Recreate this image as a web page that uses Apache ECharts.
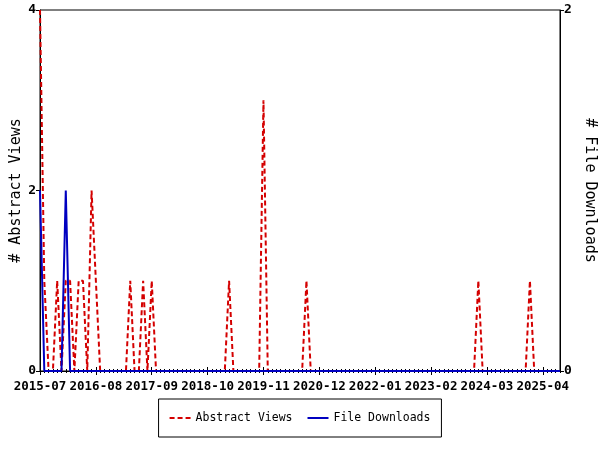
<!DOCTYPE html>
<html><head><meta charset="utf-8">
<script src="https://cdn.jsdelivr.net/npm/echarts@6/dist/echarts.min.js"></script>
<style>html,body{margin:0;padding:0;background:#fff}#c{width:600px;height:450px}</style>
</head><body><div id="c"></div>
<script>
// Categories: monthly from 2015-07, 122 months (to 2025-08)
const startYear = 2015, startMonth = 7, monthCount = 122;
const months = [];
for (let i = 0; i < monthCount; i++) {
  const m = startMonth - 1 + i;
  const y = startYear + Math.floor(m / 12);
  const mm = (m % 12) + 1;
  months.push(y + '-' + (mm < 10 ? '0' + mm : '' + mm));
}
const seriesNames = ['Abstract Views', 'File Downloads'];
const abstractViews = [
  4,1,0,0,1,0,1,1,0,1,
  1,0,2,1,0,0,0,0,0,0,
  0,1,0,0,1,0,1,0,0,0,
  0,0,0,0,0,0,0,0,0,0,
  0,0,0,0,1,0,0,0,0,0,
  0,0,3,0,0,0,0,0,0,0,
  0,0,1,0,0,0,0,0,0,0,
  0,0,0,0,0,0,0,0,0,0,
  0,0,0,0,0,0,0,0,0,0,
  0,0,0,0,0,0,0,0,0,0,
  0,0,1,0,0,0,0,0,0,0,
  0,0,0,0,1,0,0,0,0,0,
  0,0
];
const fileDownloads = [
  1,0,0,0,0,0,1,0,0,0,
  0,0,0,0,0,0,0,0,0,0,
  0,0,0,0,0,0,0,0,0,0,
  0,0,0,0,0,0,0,0,0,0,
  0,0,0,0,0,0,0,0,0,0,
  0,0,0,0,0,0,0,0,0,0,
  0,0,0,0,0,0,0,0,0,0,
  0,0,0,0,0,0,0,0,0,0,
  0,0,0,0,0,0,0,0,0,0,
  0,0,0,0,0,0,0,0,0,0,
  0,0,0,0,0,0,0,0,0,0,
  0,0,0,0,0,0,0,0,0,0,
  0,0
];
const leftTicks = [0, 2, 4];
const rightTicks = [0, 2];

const MONO = 'DejaVu Sans Mono';
const RED = '#d40000', BLUE = '#0000c0';

function xAx(opts) {
  return Object.assign({
    type: 'category', data: months, boundaryGap: false, position: 'bottom',
    axisLine: { show: false },
    axisTick: { show: false },
    axisLabel: { show: false },
    splitLine: { show: false }
  }, opts);
}

const chart = echarts.init(document.getElementById('c'), null, { renderer: 'canvas' });
chart.setOption({
  animation: false,
  backgroundColor: '#fff',
  grid: { left: 40, right: 40, top: 10, bottom: 79, containLabel: false, outerBoundsMode: 'none',
          show: true, borderColor: '#000', borderWidth: 1, backgroundColor: 'transparent' },
  legend: {
    data: [
      { name: seriesNames[0], icon: 'path://M0,0h5v2h-5z M8,0h5v2h-5z M16,0h5v2h-5z', itemStyle: { color: RED } },
      { name: seriesNames[1], icon: 'path://M0,0h21v2h-21z', itemStyle: { color: BLUE } }
    ],
    bottom: 13, left: 'center',
    borderColor: '#000', borderWidth: 1, borderRadius: 0,
    padding: [12, 11],
    itemWidth: 21, itemHeight: 2, itemGap: 15, symbolKeepAspect: false,
    textStyle: { fontFamily: MONO, fontSize: 11.5, color: '#000', lineHeight: 14 }
  },
  xAxis: [
    xAx({
      axisLine: { show: true, lineStyle: { color: '#000', width: 1 } },
      axisTick: { show: true, interval: 12, length: 4, inside: false, lineStyle: { color: '#000' } },
      axisLabel: { show: true, interval: 12, margin: 9, fontFamily: MONO, fontWeight: 'bold', fontSize: 12.5, color: '#000' }
    }),
    xAx({ axisTick: { show: true, interval: 12, length: 4, inside: true, lineStyle: { color: '#000' } } }),
    xAx({ axisTick: { show: true, interval: 0, length: 2, inside: false, lineStyle: { color: '#000' } } }),
    xAx({ axisTick: { show: true, interval: 0, length: 2, inside: true, lineStyle: { color: '#000' } } })
  ],
  yAxis: [
    {
      type: 'value', position: 'left', min: leftTicks[0], max: leftTicks[leftTicks.length - 1], interval: leftTicks[1] - leftTicks[0],
      axisLine: { show: true, lineStyle: { color: '#000' } },
      axisTick: { show: true, length: 4, lineStyle: { color: '#000' } },
      splitLine: { show: false },
      axisLabel: { margin: 4, fontFamily: MONO, fontWeight: 'bold', fontSize: 13, color: '#000' },
      name: '# Abstract Views', nameLocation: 'middle', nameGap: 16, nameRotate: 90, nameMoveOverlap: false,
      nameTextStyle: { fontFamily: MONO, fontSize: 15, color: '#000' }
    },
    {
      type: 'value', position: 'right', min: rightTicks[0], max: rightTicks[rightTicks.length - 1], interval: rightTicks[1] - rightTicks[0],
      axisLine: { show: true, lineStyle: { color: '#000' } },
      axisTick: { show: true, length: 4, lineStyle: { color: '#000' } },
      splitLine: { show: false },
      axisLabel: { margin: 4, fontFamily: MONO, fontWeight: 'bold', fontSize: 13, color: '#000' },
      name: '# File Downloads', nameLocation: 'middle', nameGap: 22, nameRotate: -90, nameMoveOverlap: false,
      nameTextStyle: { fontFamily: MONO, fontSize: 15, color: '#000' }
    }
  ],
  series: [
    {
      name: seriesNames[0], type: 'line', data: abstractViews, xAxisIndex: 0, yAxisIndex: 0,
      symbol: 'none', lineStyle: { color: RED, width: 2, type: [5, 3] }, itemStyle: { color: RED }
    },
    {
      name: seriesNames[1], type: 'line', data: fileDownloads, xAxisIndex: 0, yAxisIndex: 1,
      symbol: 'none', lineStyle: { color: BLUE, width: 2 }, itemStyle: { color: BLUE }
    }
  ]
});
</script>
</body></html>
